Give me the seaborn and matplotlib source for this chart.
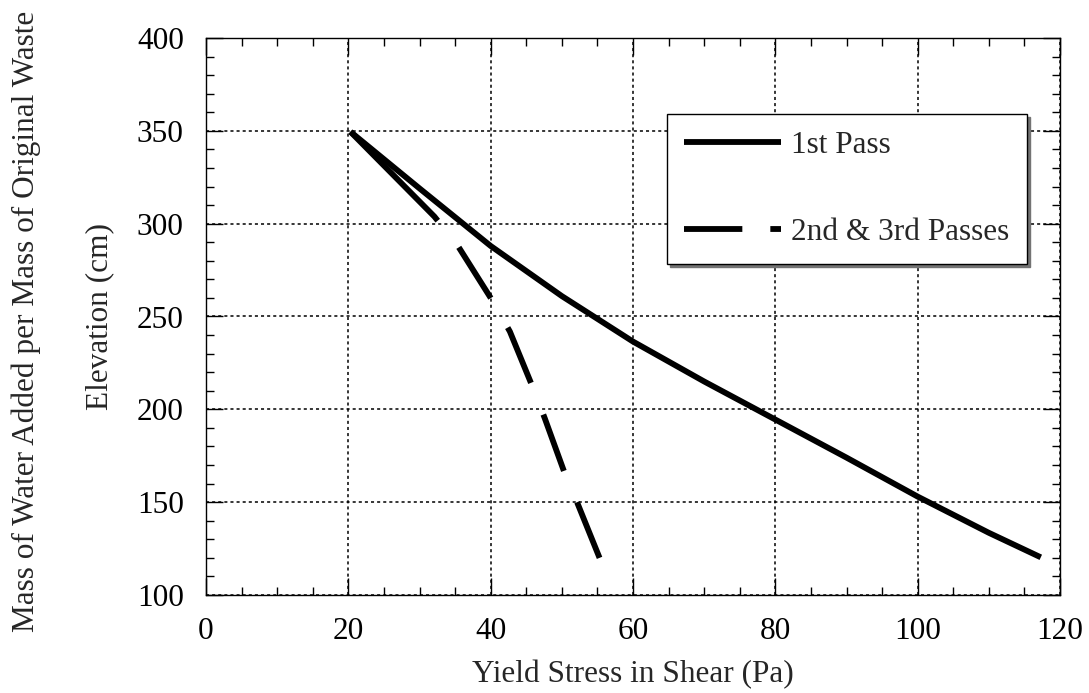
import numpy as np
import pandas as pd
import matplotlib
matplotlib.use("Agg")
import matplotlib.pyplot as plt
from matplotlib.ticker import MultipleLocator
import seaborn as sns

# ---- data ----
pass1_x = [20.3, 30.0, 40.0, 50.0, 60.0, 70.0, 80.0, 90.0, 100.0, 110.0, 117.3]
pass1_y = [349.5, 319.0, 288.0, 261.0, 236.5, 215.0, 194.5, 174.0, 153.0, 133.5, 120.3]

pass23_x = [20.3, 32.1, 35.4, 40.3, 42.7, 45.9, 47.6, 50.4, 52.2, 55.3]
pass23_y = [349.5, 303.8, 288.0, 258.2, 241.9, 212.0, 195.2, 165.6, 149.4, 120.0]

labels = ["1st Pass", "2nd & 3rd Passes"]
xlabel = "Yield Stress in Shear (Pa)"
ylabel = "Elevation (cm)"
outer_ylabel = "Mass of Water Added per Mass of Original Waste"

FS = 22.5
DPI = 100
sns.set_style("white")
plt.rcParams["font.family"] = ["Liberation Serif", "DejaVu Serif"]
plt.rcParams["font.size"] = FS

fig = plt.figure(figsize=(10.89, 6.93), dpi=DPI)
ax = fig.add_axes([206 / 1089, 1 - 595 / 693, (1060 - 206) / 1089, (595 - 38) / 693])

df1 = pd.DataFrame({"x": pass1_x, "y": pass1_y})
df2 = pd.DataFrame({"x": pass23_x, "y": pass23_y})

lw = 4.2
sns.lineplot(data=df1, x="x", y="y", ax=ax, sort=False, color="black",
             linewidth=lw, label=labels[0], estimator=None)
sns.lineplot(data=df2, x="x", y="y", ax=ax, sort=False, color="black",
             linewidth=lw, label=labels[1], estimator=None)

ax.set_xlim(0, 120)
ax.set_ylim(100, 400)

# dash pattern: long first dash, then ~60 px dashes with ~34 px gaps, ending on a dash
unit = lw * DPI / 72.0
pts = ax.transData.transform(np.column_stack([pass23_x, pass23_y]))
L = np.sum(np.hypot(*np.diff(pts, axis=0).T))
on_px, off_px, n_rep = 60.0, 34.0, 4
first_on = max(L - n_rep * (on_px + off_px), on_px)
seq = [first_on / unit] + [off_px / unit, on_px / unit] * n_rep + [off_px / unit]
l1, l2 = ax.get_lines()[0], ax.get_lines()[1]
l2.set_linestyle((0, tuple(seq)))
l2.set_dash_capstyle("butt")
l1.set_solid_capstyle("butt")

ax.xaxis.set_major_locator(MultipleLocator(20))
ax.xaxis.set_minor_locator(MultipleLocator(5))
ax.yaxis.set_major_locator(MultipleLocator(50))
ax.yaxis.set_minor_locator(MultipleLocator(10))

ax.grid(True, which="major", color="black", linestyle=(0, (2, 2)), linewidth=1.1)
ax.tick_params(which="both", direction="in", top=True, right=True,
               bottom=True, left=True, colors="black", width=1.0)
ax.tick_params(which="major", length=12, pad=16, labelsize=FS)
ax.tick_params(which="minor", length=6)
for s in ax.spines.values():
    s.set_color("black")
    s.set_linewidth(1.0)

ax.set_xlabel(xlabel, fontsize=FS, labelpad=10)
ax.set_ylabel(ylabel, fontsize=FS, labelpad=16)
fig.text(26 / 1089, 1 - 321 / 693, outer_ylabel, rotation=90, fontsize=FS,
         ha="center", va="center")

leg = ax.legend(loc="upper left", bbox_to_anchor=(667 / 1089, 1 - 114 / 693),
                bbox_transform=fig.transFigure, frameon=True, fancybox=False,
                shadow={"color": "0.45", "alpha": 1.0}, fontsize=FS,
                handlelength=3.1, handletextpad=0.33, labelspacing=1.85,
                borderpad=0.55, borderaxespad=0)
leg.get_frame().set_edgecolor("black")
leg.get_frame().set_linewidth(1.0)
leg.get_frame().set_alpha(1)
for h in leg.get_lines():
    h.set_linewidth(lw)
leg.get_lines()[1].set_linestyle((0, (10, 4.8)))
leg.get_lines()[1].set_dash_capstyle("butt")

fig.savefig("out.png", dpi=DPI)
